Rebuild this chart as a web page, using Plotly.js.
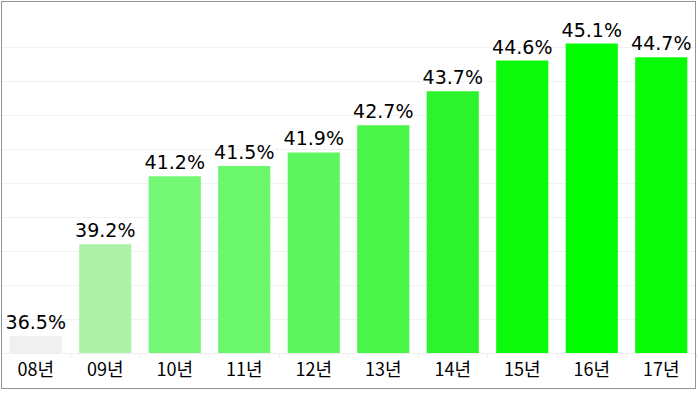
<!DOCTYPE html>
<html>
<head>
<meta charset="utf-8">
<script src="https://cdn.plot.ly/plotly-3.0.1.min.js"></script>
<style>
html,body{margin:0;padding:0;background:#fff;}
#wrap{position:relative;width:699px;height:393px;}
#chart{width:699px;height:393px;}
#frame{position:absolute;left:1px;top:1px;width:693px;height:386px;border:1.5px solid #8d949a;pointer-events:none;}
</style>
</head>
<body>
<div id="wrap"><div id="chart"></div><div id="frame"></div></div>
<script>
const categories = ["08년","09년","10년","11년","12년","13년","14년","15년","16년","17년"];
const values = [36.5, 39.2, 41.2, 41.5, 41.9, 42.7, 43.7, 44.6, 45.1, 44.7];
const barColors = ["#f0f0f0","#aef2a8","#74f774","#6bf76b","#5ef65e","#4af54a","#2cf42c","#0cfa0c","#00fc00","#08fc08"];
const labels = values.map(v => v.toFixed(1) + "%");
const axisBase = 36;

const trace = {
  type: "bar",
  x: categories,
  y: values.map(v => v - axisBase),
  base: axisBase,
  marker: {color: barColors},
  text: labels,
  textposition: "outside",
  constraintext: "none",
  cliponaxis: false,
  textfont: {family: "DejaVu Sans, sans-serif", size: 19, color: "#000"},
  hoverinfo: "none"
};

const layout = {
  width: 699, height: 393,
  margin: {l: 1, r: 3, t: 13, b: 40},
  paper_bgcolor: "#fff", plot_bgcolor: "#fff",
  bargap: 0.25,
  showlegend: false,
  font: {family: "'Noto Sans CJK KR', sans-serif", color: "#000"},
  xaxis: {
    type: "category",
    tickfont: {family: "'Noto Sans CJK KR', sans-serif", size: 18, color: "#000"},
    ticks: "outside", tickson: "boundaries", ticklen: 4, tickcolor: "#eeeeee",
    showline: true, linecolor: "#eeeeee", linewidth: 1,
    showgrid: false
  },
  yaxis: {
    range: [36, 46], dtick: 1,
    showticklabels: false,
    showgrid: true, gridcolor: "#f1f1f1", gridwidth: 1,
    zeroline: false
  }
};
Plotly.newPlot("chart", [trace], layout, {displayModeBar: false, staticPlot: true});
</script>
</body>
</html>
